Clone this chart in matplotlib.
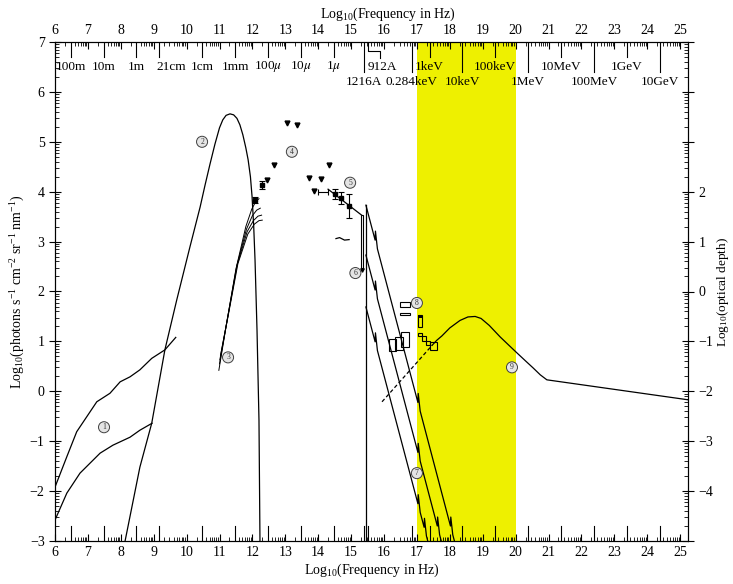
import numpy as np
import matplotlib
matplotlib.use("Agg")
import matplotlib.pyplot as plt
from matplotlib.patches import Rectangle
from matplotlib.ticker import FixedLocator

plt.rcParams['font.family'] = ['Liberation Serif', 'DejaVu Serif']
plt.rcParams['mathtext.fontset'] = 'stix'
plt.rcParams['mathtext.default'] = 'regular'

# ---- spectra (log10 frequency, log10 photon flux) ----
# 1: radio envelope (upper / lower)
radio_hi_x = [6.0, 6.36, 6.66, 7.27, 7.67, 7.98, 8.28, 8.58, 8.94, 9.34, 9.67]
radio_hi_y = [-1.92, -1.31, -0.81, -0.21, -0.04, 0.19, 0.29, 0.43, 0.66, 0.83, 1.08]
radio_lo_x = [6.0, 6.36, 6.76, 7.37, 7.76, 8.28, 8.58, 8.95]
radio_lo_y = [-2.58, -2.04, -1.64, -1.24, -1.08, -0.92, -0.78, -0.64]

# 2: microwave background
cmb_x = [8.13, 8.58, 8.94, 9.34, 9.7, 10.1, 10.41, 10.56, 10.71, 10.86, 11.0, 11.1,
         11.2, 11.32, 11.43, 11.53, 11.62, 11.71, 11.8, 11.87, 11.94, 11.99, 12.04,
         12.08, 12.14, 12.2, 12.23]
cmb_y = [-3.0, -1.52, -0.64, 0.83, 1.83, 2.89, 3.69, 4.13, 4.55, 4.95, 5.28, 5.44,
         5.53, 5.56, 5.54, 5.47, 5.34, 5.14, 4.88, 4.64, 4.3, 3.9, 3.3,
         2.63, 1.23, -0.58, -3.0]

# 3: far-infrared models (bundle)
fir_x = [[10.98, 11.2, 11.5, 11.8, 11.98, 12.1, 12.2],
         [11.0, 11.22, 11.52, 11.82, 12.0, 12.13, 12.24],
         [11.01, 11.24, 11.54, 11.84, 12.03, 12.17, 12.28],
         [11.03, 11.26, 11.56, 11.86, 12.06, 12.2, 12.3]]
fir_y = [[0.42, 1.3, 2.45, 3.3, 3.65, 3.8, 3.86],
         [0.55, 1.38, 2.5, 3.25, 3.52, 3.63, 3.67],
         [0.63, 1.45, 2.54, 3.2, 3.42, 3.51, 3.53],
         [0.72, 1.5, 2.56, 3.15, 3.35, 3.42, 3.43]]

# 4: infrared upper limits and detections
ir_lim_x = [12.44, 12.66, 13.05, 13.36, 13.72, 13.87, 14.09, 14.33]
ir_lim_y = [4.23, 4.53, 5.38, 5.34, 4.27, 4.01, 4.25, 4.53]
ir_det_x = [12.08, 12.29]
ir_det_y = [3.83, 4.13]
ir_det_err = [0.06, 0.08]

# 5: optical
opt_x = [14.51, 14.69, 14.94]
opt_y = [3.95, 3.87, 3.72]
opt_err = [0.1, 0.12, 0.24]
opt_line_x = [14.30, 15.32]
opt_line_y = [4.05, 3.53]
opt_hbar = (14.15, 3.99, 0.15)
opt_uv_x = [14.54, 14.65, 14.8, 14.94]
opt_uv_y = [3.06, 3.08, 3.03, 3.04]

# 7: soft X-ray absorbed models: start y at 15.45, end x at y=-3
xr_x0 = 15.45
xr_y0 = [3.73, 2.73, 1.69]
xr_x1 = [18.14, 17.74, 17.33]
xr_edges = [[15.73, 17.03, 18.02], [15.73, 17.03, 17.62], [15.73, 17.03, 17.22]]

# 8: X-ray boxes (x0, x1, y0, y1)
xr_boxes = [(16.49, 16.78, 1.69, 1.79), (16.49, 16.78, 1.53, 1.57),
            (16.52, 16.76, 0.89, 1.19), (16.33, 16.58, 0.83, 1.09),
            (16.15, 16.37, 0.81, 1.05), (17.03, 17.16, 1.29, 1.53),
            (17.03, 17.15, 1.10, 1.17), (17.15, 17.27, 1.00, 1.10),
            (17.27, 17.40, 0.93, 1.00), (17.40, 17.60, 0.83, 0.99)]

# 9: hard X-ray / gamma background
gam_dash_x = [15.94, 17.46]
gam_dash_y = [-0.21, 0.92]
gam_x = [17.46, 17.6, 17.76, 18.0, 18.31, 18.55, 18.77, 18.95, 19.2, 19.53,
         19.8, 20.04, 20.3, 20.53, 20.75, 20.95, 25.24]
gam_y = [0.92, 1.02, 1.11, 1.27, 1.42, 1.49, 1.5, 1.46, 1.32, 1.09,
         0.92, 0.77, 0.61, 0.47, 0.33, 0.23, -0.17]

# circled component numbers
tag_num = [1, 2, 3, 4, 5, 6, 7, 8, 9]
tag_x = [7.49, 10.47, 11.26, 13.2, 14.97, 15.13, 17.0, 17.0, 19.89]
tag_y = [-0.72, 5.0, 0.68, 4.8, 4.18, 2.37, -1.64, 1.77, 0.48]

# wavelength / energy marks on the frequency scale
c_light = 2.998e8
hz_per_kev = 2.418e17
wave_names = ['100m', '10m', '1m', '21cm', '1cm', '1mm', r'100$\mathit{\mu}$',
              r'10$\mathit{\mu}$', r'1$\mathit{\mu}$', '1216A']
wave_m = [100, 10, 1, 0.21, 0.01, 1e-3, 1e-4, 1e-5, 1e-6, 1.216e-7]
wave_row = [1, 1, 1, 1, 1, 1, 1, 1, 1, 2]
energy_names = ['0.284keV', '1keV', '10keV', '100keV', '1MeV', '10MeV', '100MeV', '1GeV', '10GeV']
energy_kev = [0.284, 1, 10, 100, 1e3, 1e4, 1e5, 1e6, 1e7]
energy_row = [2, 1, 2, 1, 2, 1, 2, 1, 2]

mark_names = wave_names + energy_names
mark_pos = [np.log10(c_light / w) for w in wave_m] + [np.log10(e * hz_per_kev) for e in energy_kev]
mark_rows = wave_row + energy_row
label_shift = {'21cm': 0.38}

fig = plt.figure(figsize=(7.33, 5.84), dpi=100)
ax = fig.add_axes([55 / 733, 43 / 584, 633 / 733, 499 / 584])
ax.set_xlim(6, 25.24)
ax.set_ylim(-3, 7)

lw = 0.9
ax.axvspan(17, 20, color='#eef000', lw=0, zorder=0)

ax.plot(radio_hi_x, radio_hi_y, color='k', lw=lw)
ax.plot(radio_lo_x, radio_lo_y, color='k', lw=lw)
ax.plot(cmb_x, cmb_y, color='k', lw=lw)
for fx, fy in zip(fir_x, fir_y):
    ax.plot(fx, fy, color='k', lw=0.7)

ax.plot(ir_lim_x, ir_lim_y, 'v', color='k', ms=3.5)
ax.errorbar(ir_det_x, ir_det_y, yerr=ir_det_err, fmt='s', color='k', ms=3,
            capsize=2, elinewidth=0.8, capthick=0.8)
ax.errorbar(opt_x, opt_y, yerr=opt_err, fmt='s', color='k', ms=3,
            capsize=2, elinewidth=0.8, capthick=0.8)
ax.errorbar([opt_hbar[0]], [opt_hbar[1]], xerr=[opt_hbar[2]], fmt='none',
            color='k', capsize=2, elinewidth=0.8, capthick=0.8)
ax.plot(opt_line_x, opt_line_y, color='k', lw=lw)
ax.add_patch(Rectangle((15.30, 2.47), 0.06, 1.06, fill=False, ec='k', lw=0.8))
ax.plot([15.33], [2.44], 'v', color='k', ms=2.5)
ax.plot(opt_uv_x, opt_uv_y, color='k', lw=lw)

# X-ray lines with absorption edges
ax.plot([xr_x0, xr_x0], [xr_y0[0], -3], color='k', lw=lw)
for y0, x1, edges in zip(xr_y0, xr_x1, xr_edges):
    slope = (-3 - y0) / (x1 - xr_x0)
    px, py = [xr_x0], [y0]
    for xe in edges:
        ye = y0 + slope * (xe - xr_x0)
        px += [xe, xe + 0.01, xe + 0.07]
        py += [ye, ye + 0.18, y0 + slope * (xe + 0.07 - xr_x0)]
    px.append(x1)
    py.append(-3)
    ax.plot(px, py, color='k', lw=lw)

for x0, x1, y0, y1 in xr_boxes:
    ax.add_patch(Rectangle((x0, y0), x1 - x0, y1 - y0, fill=False, ec='k', lw=0.8))
ax.add_patch(Rectangle((17.03, 1.47), 0.13, 0.06, color='k', lw=0))

ax.plot(gam_dash_x, gam_dash_y, color='k', lw=lw, ls=(0, (3, 2)))
ax.plot(gam_x, gam_y, color='k', lw=lw)

for n, tx, ty in zip(tag_num, tag_x, tag_y):
    ax.text(tx, ty, str(n), fontsize=5.5, ha='center', va='center', color='0.2',
            bbox=dict(boxstyle='circle,pad=0.2', fc='#e4e4e4', ec='0.25', lw=0.7))

# marks hanging from the top axis and standing on the bottom axis
for name, pos, row in zip(mark_names, mark_pos, mark_rows):
    ax.plot([pos, pos], [7, 6.7 if row == 1 else 6.4], color='k', lw=0.8)
    ax.plot([pos, pos], [-3, -2.7], color='k', lw=0.8)
    ax.text(pos + label_shift.get(name, 0), 6.5 if row == 1 else 6.2, name,
            fontsize=9.5, ha='center', va='center')
lyc = np.log10(c_light / 912e-10)
ax.plot([lyc, lyc, 15.87, 15.87], [7, 6.81, 6.81, 6.68], color='k', lw=0.8)
ax.plot([lyc, lyc], [-3, -2.7], color='k', lw=0.8)
ax.text(15.95, 6.5, '912A', fontsize=9.5, ha='center', va='center')

# ticks: integer majors, logarithmic minors
x_major = np.arange(6, 26)
x_minor = [d + np.log10(k) for d in range(6, 26) for k in range(2, 10)]
ax.xaxis.set_major_locator(FixedLocator(x_major))
ax.xaxis.set_minor_locator(FixedLocator(x_minor))
y_major = np.arange(-3, 8)
y_minor = [d + np.log10(k) for d in range(-3, 7) for k in range(2, 10)]
ax.yaxis.set_major_locator(FixedLocator(y_major))
ax.yaxis.set_minor_locator(FixedLocator(y_minor))
ax.tick_params(which='both', direction='in', top=True, labeltop=True, labelsize=10)
ax.tick_params(axis='y', which='major', direction='inout', length=8)
ax.tick_params(axis='x', which='major', length=5)
ax.tick_params(which='minor', length=3)
ax.set_xlabel('Log$_{10}$(Frequency in Hz)', fontsize=10, labelpad=2)
ax.set_ylabel('Log$_{10}$(photons s$^{-1}$ cm$^{-2}$ sr$^{-1}$ nm$^{-1}$)', fontsize=10, labelpad=2)
fig.text(388 / 733, 1 - 14 / 584, 'Log$_{10}$(Frequency in Hz)', fontsize=10, ha='center', va='center')

# optical depth scale on the right
ax2 = ax.twinx()
ax2.set_ylim(-5, 5)
r_major = np.arange(-5, 6)
ax2.yaxis.set_major_locator(FixedLocator(r_major))
ax2.set_yticklabels([str(v).replace('-', '\u2212') if -4 <= v <= 2 else '' for v in r_major])
ax2.yaxis.set_minor_locator(FixedLocator([d + np.log10(k) for d in range(-5, 5) for k in range(2, 10)]))
ax2.tick_params(which='both', direction='in', labelsize=10)
ax2.tick_params(which='major', direction='inout', length=8)
ax2.tick_params(which='minor', length=3)
ax2.set_ylabel('Log$_{10}$(optical depth)', fontsize=9.5, labelpad=1)

fig.savefig('out.png', dpi=100)
